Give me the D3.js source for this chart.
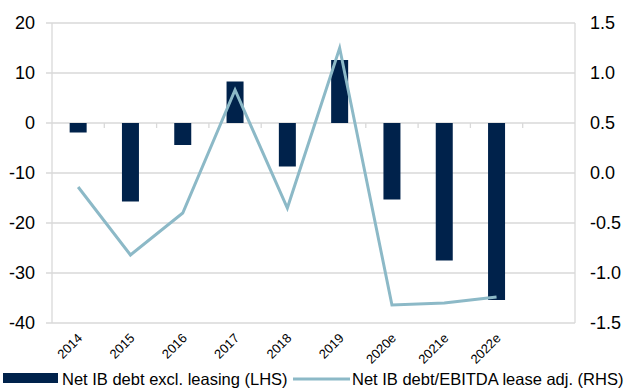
<!DOCTYPE html>
<html>
<head>
<meta charset="utf-8">
<script src="https://cdn.jsdelivr.net/npm/d3@7"></script>
<style>
  html, body { margin: 0; padding: 0; background: #fff; }
  svg { display: block; font-family: "Liberation Sans", Arial, sans-serif; }
</style>
</head>
<body>
<svg id="chart" width="626" height="389"></svg>
<script>
// Years shown on the category axis (one extra empty slot at the end)
const years = ["2014", "2015", "2016", "2017", "2018", "2019", "2020e", "2021e", "2022e", ""];
// Net interest-bearing debt excluding leasing (left axis)
const netDebt = [-1.9, -15.7, -4.4, 8.3, -8.7, 12.6, -15.3, -27.5, -35.4];
// Net IB debt / EBITDA, lease adjusted (right axis)
const leverage = [-0.14, -0.82, -0.40, 0.83, -0.35, 1.25, -1.32, -1.30, -1.24];
const leftTicks = [20, 10, 0, -10, -20, -30, -40];
const rightTicks = [1.5, 1.0, 0.5, 0.0, -0.5, -1.0, -1.5];
const seriesNames = ["Net IB debt excl. leasing (LHS)", "Net IB debt/EBITDA lease adj. (RHS)"];

const barColor = "#00224b";
const lineColor = "#8cb9c7";
const gridColor = "#d9d9d9";

const svg = d3.select("#chart");
const plot = { left: 52, right: 575, top: 23, bottom: 323 };

const x = d3.scaleBand().domain(years).range([plot.left, plot.right]).paddingInner(0).paddingOuter(0);
const yL = d3.scaleLinear().domain([-40, 20]).range([plot.bottom, plot.top]);
const yR = d3.scaleLinear().domain([-1.5, 1.5]).range([plot.bottom, plot.top]);

// Horizontal gridlines
svg.append("g").selectAll("line").data(leftTicks).join("line")
  .attr("x1", plot.left - 6).attr("x2", plot.right)
  .attr("y1", d => yL(d)).attr("y2", d => yL(d))
  .attr("stroke", gridColor).attr("stroke-width", 1.3);

// Vertical axis lines
[plot.left, plot.right].forEach(px => {
  svg.append("line").attr("x1", px).attr("x2", px)
    .attr("y1", plot.top).attr("y2", plot.bottom)
    .attr("stroke", gridColor).attr("stroke-width", 1.3);
});

// Category tick marks along the zero line
svg.append("g").selectAll("line").data(years.slice(1)).join("line")
  .attr("x1", d => x(d)).attr("x2", d => x(d))
  .attr("y1", yL(0)).attr("y2", yL(0) + 5)
  .attr("stroke", gridColor).attr("stroke-width", 1.3);

// Bars
const barW = 17;
svg.append("g").selectAll("rect").data(netDebt).join("rect")
  .attr("x", (d, i) => x(years[i]) + x.bandwidth() / 2 - barW / 2)
  .attr("width", barW)
  .attr("y", d => yL(Math.max(0, d)))
  .attr("height", d => Math.abs(yL(d) - yL(0)))
  .attr("fill", barColor);

// Leverage line
const line = d3.line()
  .x((d, i) => x(years[i]) + x.bandwidth() / 2)
  .y(d => yR(d));
svg.append("path").datum(leverage)
  .attr("d", line)
  .attr("fill", "none")
  .attr("stroke", lineColor)
  .attr("stroke-width", 3)
  .attr("stroke-linejoin", "miter");

// Left axis labels (plain hyphen for negatives)
svg.append("g").selectAll("text").data(leftTicks).join("text")
  .attr("x", 35).attr("y", d => yL(d))
  .attr("dy", "0.35em")
  .attr("text-anchor", "end")
  .attr("font-size", 18)
  .attr("fill", "#000")
  .text(d => String(d));

// Right axis labels
svg.append("g").selectAll("text").data(rightTicks).join("text")
  .attr("x", 590).attr("y", d => yR(d))
  .attr("dy", "0.35em")
  .attr("text-anchor", "start")
  .attr("font-size", 18)
  .attr("fill", "#000")
  .text(d => d.toFixed(1));

// Rotated category labels
svg.append("g").selectAll("text").data(years.filter(d => d)).join("text")
  .attr("transform", d => `translate(${x(d) + x.bandwidth() / 2 + 5},${plot.bottom + 16}) rotate(-45)`)
  .attr("text-anchor", "end")
  .attr("font-size", 13)
  .attr("fill", "#000")
  .text(d => d);

// Legend
const legend = svg.append("g");
legend.append("rect").attr("x", 3).attr("y", 373).attr("width", 55).attr("height", 10).attr("fill", barColor);
legend.append("text").attr("x", 62).attr("y", 385).attr("font-size", 16.5).attr("fill", "#000").text(seriesNames[0]);
legend.append("line").attr("x1", 293).attr("x2", 350).attr("y1", 379).attr("y2", 379)
  .attr("stroke", lineColor).attr("stroke-width", 3);
legend.append("text").attr("x", 352).attr("y", 385).attr("font-size", 16.5).attr("fill", "#000").text(seriesNames[1]);
</script>
</body>
</html>
